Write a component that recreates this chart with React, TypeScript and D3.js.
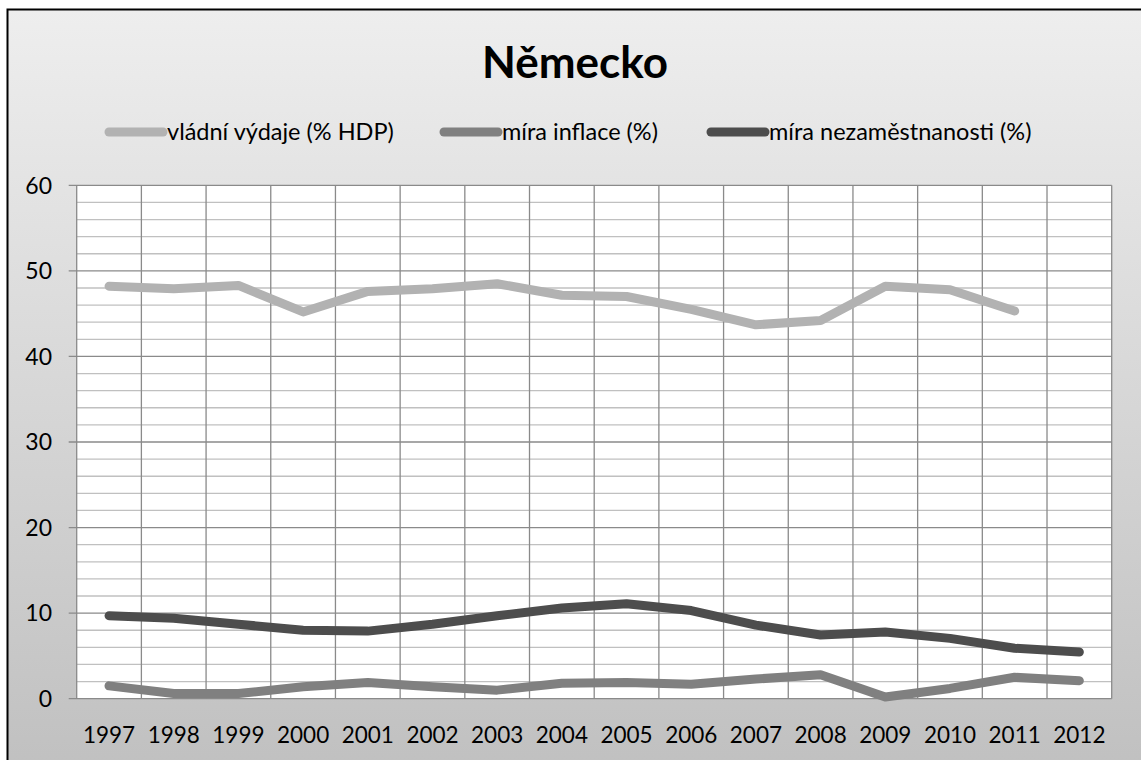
import React from "react";
import * as d3 from "d3";

const title = "Německo";
const years = ["1997","1998","1999","2000","2001","2002","2003","2004","2005","2006","2007","2008","2009","2010","2011","2012"];
const govSpending: (number | null)[] = [48.2, 47.9, 48.3, 45.2, 47.6, 47.9, 48.5, 47.15, 47.0, 45.5, 43.7, 44.2, 48.2, 47.8, 45.3, null];
const inflation: (number | null)[] = [1.5, 0.6, 0.6, 1.4, 1.9, 1.4, 1.0, 1.8, 1.9, 1.7, 2.3, 2.8, 0.2, 1.2, 2.5, 2.1];
const unemployment: (number | null)[] = [9.7, 9.4, 8.7, 8.0, 7.9, 8.7, 9.7, 10.6, 11.1, 10.3, 8.6, 7.45, 7.8, 7.05, 5.9, 5.45];
const seriesNames = ["vládní výdaje (% HDP)", "míra inflace (%)", "míra nezaměstnanosti (%)"];
const seriesColors = ["#b2b2b2", "#808080", "#4d4d4d"];
const yTicks = [0, 10, 20, 30, 40, 50, 60];
const yMinorTicks = d3.range(0, 61, 2);

const W = 1141, H = 760;
const FONT = "Lato, 'Open Sans', sans-serif";

export default function App() {
  const left = 76.7, right = 1111.7, top = 185.3, bottom = 698.7;
  const x = d3.scaleBand<string>().domain(years).range([left, right]).padding(0);
  const y = d3.scaleLinear().domain([0, 60]).range([bottom, top]);
  const cx = (yr: string) => (x(yr) as number) + x.bandwidth() / 2;

  const series = [govSpending, inflation, unemployment];
  const line = d3.line<number | null>()
    .defined(d => d !== null)
    .x((_, i) => cx(years[i]))
    .y(d => y(d as number));

  const legendItems = [
    { x0: 105, tx: 167 },
    { x0: 440, tx: 502 },
    { x0: 707, tx: 769 },
  ];

  return (
    <svg width={W} height={H} style={{ position: "absolute", left: 0, top: 0, display: "block" }}>
      <defs>
        <linearGradient id="bg" x1="0" y1="0" x2="0" y2="1">
          <stop offset="0" stopColor="#eeeeee" />
          <stop offset="1" stopColor="#bfbfbf" />
        </linearGradient>
      </defs>
      <rect x={0} y={0} width={W} height={H} fill="#ffffff" />
      <rect x={7.5} y={9.5} width={W + 20} height={H + 20} fill="url(#bg)" stroke="#000" strokeWidth={2} />

      <text x={575} y={78} textAnchor="middle" fontFamily={FONT} fontWeight={700} fontSize={44} fill="#000">{title}</text>

      {legendItems.map((li, i) => (
        <g key={i}>
          <line x1={li.x0 + 4} x2={li.x0 + 58} y1={132} y2={132} stroke={seriesColors[i]} strokeWidth={9} strokeLinecap="round" />
          <text x={li.tx} y={132} dy="0.35em" fontFamily={FONT} fontSize={23.5} fill="#000">{seriesNames[i]}</text>
        </g>
      ))}

      <rect x={left} y={top} width={right - left} height={bottom - top} fill="#ffffff" />
      {yMinorTicks.filter(t => t % 10 !== 0).map(t => (
        <line key={"m" + t} x1={left} x2={right} y1={y(t)} y2={y(t)} stroke="#c0c0c0" strokeWidth={1.3} />
      ))}
      {yTicks.map(t => (
        <line key={"M" + t} x1={left - 8} x2={right} y1={y(t)} y2={y(t)} stroke="#8a8a8a" strokeWidth={1.3} />
      ))}
      {years.map((yr) => (
        <line key={"v" + yr} x1={(x(yr) as number)} x2={(x(yr) as number)} y1={top} y2={bottom} stroke="#8a8a8a" strokeWidth={1.3} />
      ))}
      <line x1={right} x2={right} y1={top} y2={bottom} stroke="#8a8a8a" strokeWidth={1.3} />

      {yTicks.map(t => (
        <text key={"yl" + t} x={52} y={y(t)} dy="0.36em" textAnchor="end" fontFamily={FONT} fontSize={23} fill="#000">{t}</text>
      ))}
      {years.map(yr => (
        <text key={"xl" + yr} x={cx(yr)} y={735} dy="0.36em" textAnchor="middle" fontFamily={FONT} fontSize={22.5} fill="#000">{yr}</text>
      ))}

      {series.map((s, i) => (
        <path key={"s" + i} d={line(s) || ""} fill="none" stroke={seriesColors[i]} strokeWidth={9} strokeLinecap="round" strokeLinejoin="round" />
      ))}
    </svg>
  );
}
